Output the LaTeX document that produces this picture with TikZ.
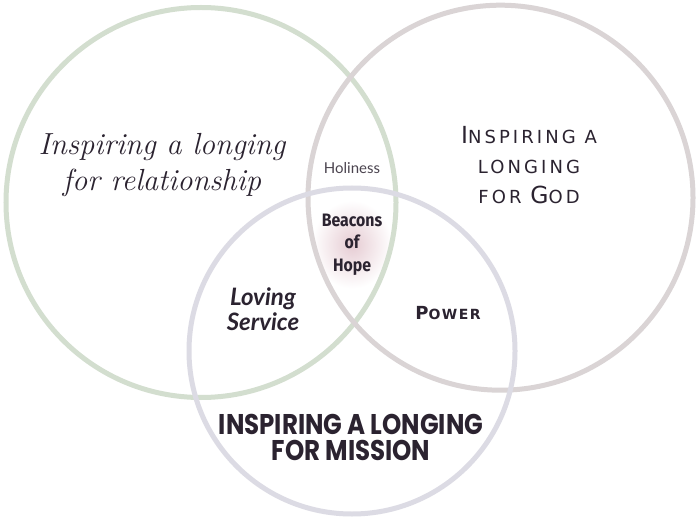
\documentclass[tikz,border=0pt]{standalone}
\usepackage{fontspec}
\newfontfamily\godfont[LetterSpace=17]{DejaVu Sans}
\newfontfamily\holyfont{Lato}
\newfontfamily\beaconfont[FakeStretch=0.88]{Fira Sans}
\newfontfamily\lovefont{Lato}
\newfontfamily\powerfont[LetterSpace=10]{DejaVu Sans}
\newfontfamily\missionfont[FakeStretch=0.86]{Poppins}
\definecolor{ink}{HTML}{2B2330}
\definecolor{sage}{HTML}{D3DECF}
\definecolor{ash}{HTML}{DAD4D5}
\definecolor{lilac}{HTML}{DCDBE4}
\definecolor{glowpink}{HTML}{E6CCD3}
\newcommand{\fs}[2]{\fontsize{#1}{#2}\selectfont}
\newcommand{\capl}[1]{{\fs{23.5}{30}#1}}
\tikzset{
  ring/.style={line width=5pt},
  label/.style={text=ink,align=center,inner sep=0pt},
  beacon/.style={font=\beaconfont\bfseries\fs{18}{22.5}}}
\begin{document}
\begin{tikzpicture}[x=1pt,y=-1pt]
\useasboundingbox (0,0) rectangle (700,518);
\fill[white] (0,0) rectangle (700,518);
% soft glow behind the centre
\shade[inner color=glowpink,outer color=white] (352,244.5) ellipse (40 and 44);
% the three circles
\coordinate (rel) at (201,202.5);\coordinate (god) at (500.5,197.7);\coordinate (mis) at (352,351);
\draw[ring,sage] (rel) circle (195);
\draw[ring,ash] (god) circle (192.5);
\draw[ring,lilac] (mis) circle (163);
% labels of the circles
\node[label,font=\itshape\fs{30.5}{36}] (reltext) at (162,165) {Inspiring a longing\\for relationship};
\node[label,font=\godfont\fs{18}{30}] (godtext) at (529,165) {\capl{I}NSPIRING A\\LONGING\\FOR \capl{G}OD};
\node[label,font=\missionfont\bfseries\fs{28.5}{26}] (mistext) at (351,437) {INSPIRING A LONGING\\FOR MISSION};
% overlaps
\node[label,font=\holyfont\fs{15}{18},text=ink!85] (holiness) at (352,168) {Holiness};
\node[label,beacon] (beacons) at (352,244.5) {Beacons\\of\\Hope};
\node[label,font=\lovefont\bfseries\itshape\fs{24}{25}] (loving) at (263,309) {Loving\\Service};
\node[label,font=\powerfont\bfseries\fs{14}{20}] (power) at (448,313) {{\fs{18}{20}P}OWER};
\end{tikzpicture}
\end{document}
